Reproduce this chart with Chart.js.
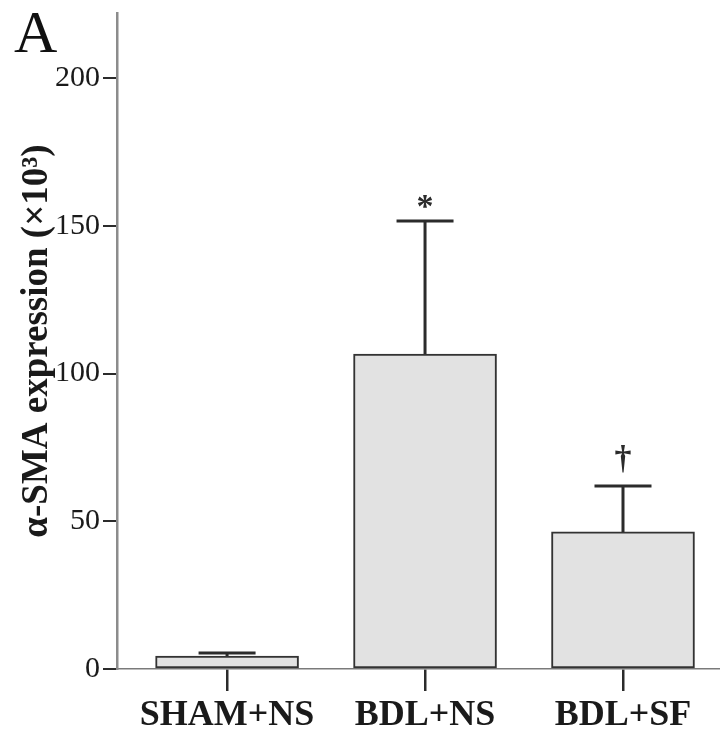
<!DOCTYPE html>
<html>
<head>
<meta charset="utf-8">
<script src="https://cdn.jsdelivr.net/npm/chart.js@4"></script>
<style>
  html, body { margin: 0; padding: 0; background: #fff; }
  #wrap { width: 720px; height: 737px; }
</style>
</head>
<body>
<div id="wrap"><canvas id="c" width="720" height="737"></canvas></div>
<script>
// ---- data ----
const categories = ['SHAM+NS', 'BDL+NS', 'BDL+SF'];
const means = [4.4, 106.6, 46.4];
const errors = [1.0, 45.0, 15.5];
const markers = ['', '*', '†'];
const yTicks = [0, 50, 100, 150, 200];
const yMax = 222;
const panelLabel = 'A';
const yTitle = 'α-SMA expression (×10³)';

const SERIF = '"Liberation Serif", "Times New Roman", serif';
const DARK = '#2b2b2b';

const errorBarPlugin = {
  id: 'errorBars',
  afterDatasetsDraw(chart) {
    const ctx = chart.ctx;
    const meta = chart.getDatasetMeta(0);
    const ys = chart.scales.y;
    ctx.save();
    ctx.strokeStyle = DARK;
    ctx.lineWidth = 3;
    meta.data.forEach((el, i) => {
      const x = el.x;
      const yTop = ys.getPixelForValue(means[i]);
      const yErr = ys.getPixelForValue(means[i] + errors[i]);
      ctx.beginPath();
      ctx.moveTo(x, yTop);
      ctx.lineTo(x, yErr);
      ctx.moveTo(x - 28.5, yErr);
      ctx.lineTo(x + 28.5, yErr);
      ctx.stroke();
      if (markers[i]) {
        ctx.fillStyle = DARK;
        ctx.font = 'bold 34px ' + SERIF;
        ctx.textAlign = 'center';
        ctx.textBaseline = 'alphabetic';
        const m = ctx.measureText(markers[i]);
        const desc = m.actualBoundingBoxDescent || 0;
        ctx.fillText(markers[i], x, yErr - 13 - desc);
      }
    });
    ctx.restore();
  }
};

const panelPlugin = {
  id: 'panelLabel',
  afterDraw(chart) {
    const ctx = chart.ctx;
    ctx.save();
    ctx.fillStyle = '#111';
    ctx.font = '60px ' + SERIF;
    ctx.textAlign = 'left';
    ctx.textBaseline = 'alphabetic';
    ctx.fillText(panelLabel, 14, 52);
    ctx.restore();
  }
};

new Chart(document.getElementById('c'), {
  type: 'bar',
  data: {
    datasets: [{
      data: categories.map((c, i) => ({ x: i + 1, y: means[i] })),
      backgroundColor: '#e2e2e2',
      borderColor: '#333333',
      borderWidth: 2,
      borderSkipped: false,
      barThickness: 143
    }]
  },
  options: {
    responsive: false,
    animation: false,
    layout: { padding: { top: 13, right: 0, left: 0, bottom: 0 } },
    plugins: { legend: { display: false }, tooltip: { enabled: false } },
    scales: {
      x: {
        type: 'linear',
        offset: false,
        min: 0.444,
        max: 3.49,
        afterBuildTicks(scale) { scale.ticks = categories.map((c, i) => ({ value: i + 1 })); },
        afterFit(scale) { scale.height = 68; scale.paddingLeft = 0; scale.paddingRight = 0; },
        grid: { offset: false, drawOnChartArea: false, drawTicks: true, tickLength: 22, color: DARK, lineWidth: 2.5 },
        border: { display: true, color: '#7a7a7a', width: 1.5 },
        ticks: {
          callback: (v) => categories[Math.round(v) - 1] || '',
          font: { family: SERIF, size: 36, weight: 'bold' },
          color: '#1a1a1a',
          padding: 3,
          maxRotation: 0,
          autoSkip: false
        }
      },
      y: {
        min: 0,
        max: yMax,
        afterBuildTicks(scale) { scale.ticks = yTicks.map(v => ({ value: v })); },
        afterFit(scale) { scale.width = 117; scale.paddingTop = 0; scale.paddingBottom = 0; },
        grid: { drawOnChartArea: false, drawTicks: true, tickLength: 14, color: DARK, lineWidth: 2 },
        border: { display: true, color: '#8c8c8c', width: 2.5 },
        ticks: {
          font: { family: SERIF, size: 30 },
          color: '#1a1a1a',
          padding: 3,
          includeBounds: false
        },
        title: {
          display: true,
          text: yTitle,
          font: { family: SERIF, size: 37, weight: 'bold' },
          color: '#1a1a1a',
          padding: { top: 15, bottom: 0 }
        }
      }
    }
  },
  plugins: [errorBarPlugin, panelPlugin]
});
</script>
</body>
</html>
